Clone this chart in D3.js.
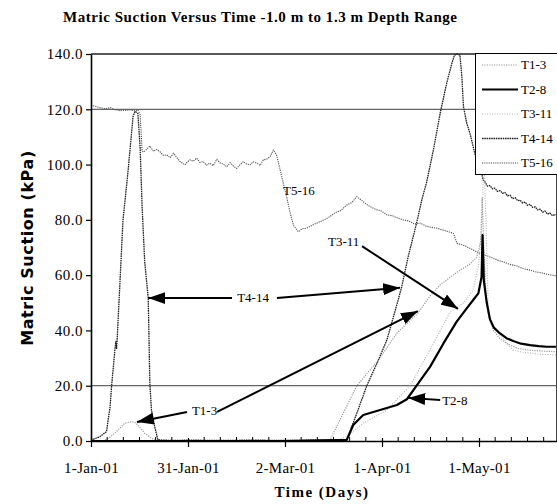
<!DOCTYPE html>
<html>
<head>
<meta charset="utf-8">
<script src="https://cdn.jsdelivr.net/npm/d3@7"></script>
<style>
body { margin: 0; background: #fff; }
svg { display: block; }
</style>
</head>
<body>
<div id="chart"></div>
<script>
// data, days counted from 1-Jan-01
var seriesNames = ["T1-3", "T2-8", "T3-11", "T4-14", "T5-16"];

var t1Days = [0, 2, 4.2, 6, 8.4, 10.4, 12.5, 13.5, 14.5, 16.6, 18.7, 20.7, 30, 50, 73.9, 78, 82.2, 88.9, 94.6, 101.1, 104.9, 108, 113.1, 117.2, 119.3, 120.5, 121, 121.5, 122.2, 123, 124.5, 126.5, 129, 132, 136, 140, 143.8];
var t1Vals = [0, 0, 0.2, 1.5, 4, 6.4, 7, 6.8, 5.8, 2.8, 1, 0.1, 0, 0, 0.3, 10, 20, 29.3, 39, 46.3, 52.5, 56.5, 61, 64, 66.5, 72, 88, 70, 52, 45, 40, 37, 35, 33.5, 32.8, 32.5, 32.3];

var t2Days = [0, 20, 40, 60, 79.1, 81.1, 84.2, 89.4, 94.6, 97.7, 100.7, 104.9, 109, 113.1, 116.2, 118.2, 119.8, 120.8, 121.1, 121.5, 122.4, 123.4, 124.6, 126.5, 128.5, 130.6, 133, 135.8, 138.5, 140.9, 143.8];
var t2Vals = [0, 0, 0, 0, 0.4, 5.8, 9.4, 11.2, 13, 15.1, 20, 26.9, 35.3, 43.2, 48, 51, 53.4, 59.4, 74.5, 58, 50, 44, 41, 38.9, 37.2, 36.2, 35.2, 34.7, 34.3, 34.1, 34.1];

var t3Days = [0, 20, 50, 70, 76, 79.1, 84.2, 91.5, 98.7, 105.9, 111, 115.2, 118.2, 119.8, 120.8, 121.3, 121.7, 122.1, 122.6, 122.9, 123.4, 125, 126.5, 128.5, 130.6, 133, 135.8, 139, 143.8];
var t3Vals = [0, 0, 0, 0, 0.2, 1.6, 6.4, 11.2, 20, 35.3, 46.5, 50, 54.6, 63, 76.3, 94.4, 97, 82, 60, 46.2, 43.8, 40.5, 38.4, 35.5, 32.9, 32.2, 31.8, 31.4, 31.1];

var t4Days = [0, 1.5, 2.8, 4.8, 5.9, 6.4, 7.4, 7.7, 7.9, 8.1, 9.9, 11.4, 13, 13.6, 14.5, 15.2, 15.8, 16.6, 17.7, 18.2, 18.7, 19.7, 20.7, 25, 30, 40, 50, 60, 70, 79.1, 82.2, 85.3, 88.9, 91.5, 95, 96.1, 98.1, 100.7, 102.3, 103.8, 105.9, 108, 110, 111.6, 112.4, 113.2, 114.1, 114.7, 115.2, 116.2, 117.2, 118.2, 118.8, 120.8, 121.3, 122, 122.6, 123.4, 124.2, 124.9, 125.7, 126.5, 127.3, 128, 128.8, 129.6, 130.4, 131.2, 132, 132.7, 133.5, 134.3, 135, 135.8, 136.6, 137.4, 138.1, 138.9, 139.7, 140.4, 141.2, 141.9, 142.7, 143.8];
var t4Vals = [0.3, 1, 1.6, 3.4, 12.4, 20.3, 33, 36, 33.5, 37, 80, 96.9, 117.3, 119.3, 118.5, 106, 85, 65, 51.6, 20.9, 11.2, 5.2, 0.4, 0.2, 0.3, 0.2, 0.3, 0.2, 0.3, 0.4, 10, 20, 29.3, 36.5, 51, 55.8, 66.7, 78.8, 87.2, 93.6, 105.3, 118.6, 129.4, 136.6, 139.6, 140, 139.6, 131.8, 120.9, 115, 111.3, 106.5, 103.5, 96.9, 94.4, 93.5, 92.2, 92.4, 91.2, 91.5, 90.3, 90.6, 89.6, 89.9, 88.7, 88.9, 87.7, 88, 86.9, 87.1, 86.1, 86.4, 85.2, 85.6, 84.5, 84.7, 83.6, 83.9, 82.8, 83.2, 82.1, 82.5, 81.6, 81.9];

var t5Days = [0, 1.5, 3, 4.5, 6, 7.5, 9, 10.5, 12, 13.5, 14.5, 15.2, 15.8, 16.2, 17.2, 18.2, 19.3, 20.3, 21.3, 22.4, 23.4, 24.5, 25.5, 26.5, 27.5, 28.3, 29, 29.8, 30.6, 31.6, 32.7, 33.7, 34.7, 35.7, 36.8, 37.8, 38.9, 39.9, 40.9, 42, 43, 44, 45, 46, 47.1, 48.1, 49.2, 50.2, 51.3, 52.3, 53.3, 54.4, 55.4, 56.4, 57.4, 59, 60.5, 61.5, 62.6, 64.1, 65.4, 66.7, 68, 69.4, 70.8, 72.4, 73.9, 75.5, 77.3, 79.1, 80.7, 82.2, 83.6, 85, 86.3, 88, 89.8, 91.5, 93.2, 94.9, 96.6, 98.3, 100, 101.8, 103.5, 105.2, 106.9, 108.6, 110.4, 112.1, 113.2, 114.8, 116.5, 118.2, 120.3, 122, 123.8, 125.5, 127.5, 129.5, 131.5, 133.5, 135.5, 137.5, 139.5, 141.5, 143.8];
var t5Vals = [121.5, 121, 120.5, 120.2, 120.6, 119.8, 119.5, 119.6, 119.8, 119.5, 119.8, 118, 105, 104.5, 105.5, 106.7, 104.8, 105.5, 104.7, 103.3, 103.5, 102.5, 104.1, 102.6, 101.1, 100.5, 99.9, 101, 101.7, 101.2, 102.3, 100.8, 101.1, 99.8, 100.5, 99.6, 101.9, 100.6, 100.2, 99.2, 100.7, 99.5, 98.6, 99.8, 101.1, 100.2, 99.9, 101, 100.5, 99.7, 101.7, 102, 102.9, 105.3, 103.5, 95.6, 88.4, 83, 78.1, 75.7, 76.8, 77, 77.8, 78.6, 79.3, 80.2, 81.2, 82.6, 83.4, 85.4, 86.3, 88.4, 87.1, 85.8, 84.8, 83.8, 83.2, 81.8, 81.5, 80.6, 80, 79.6, 78.5, 78.8, 77.8, 77.3, 77, 76.4, 75.8, 75.1, 71.5, 71, 70.1, 69.1, 67.9, 67.2, 66.4, 65.5, 64.8, 63.9, 63.4, 62.4, 61.9, 61.2, 60.8, 60.2, 59.8];

var allDays = [t1Days, t2Days, t3Days, t4Days, t5Days];
var allVals = [t1Vals, t2Vals, t3Vals, t4Vals, t5Vals];

var yTicks = [0, 20, 40, 60, 80, 100, 120, 140];
var gridVals = [20, 120];
var xTickDays = [0, 30, 60, 90, 120];
var lastDay = 144;

// annotations (label position and arrows in data units)
var noteLabels = ["T4-14", "T1-3", "T3-11", "T2-8", "T5-16"];
var noteDays = [45.2, 31.2, 73.3, 108.6, 59.4];
var noteVals = [50.3, 9.4, 70.5, 13, 89];

var arrowFromDays = [43.6, 57.5, 29.7, 39, 83.8, 108];
var arrowFromVals = [51.7, 51.7, 10.5, 10.5, 70.5, 14.8];
var arrowToDays = [17.7, 95.6, 14.2, 101.1, 113.5, 98.1];
var arrowToVals = [51.7, 55.4, 6.9, 47, 47.8, 15.6];

// styles
var lineColors = ["#9a9a9a", "#000", "#b8b8b8", "#222", "#555"];
var lineWidths = [1.2, 2.2, 1.2, 1.3, 1.1];
var lineDashes = ["1.2,1.2", null, "1,1.5", "1.6,0.7", "1.2,1"];

var serif = '"Liberation Serif", "Times New Roman", serif';
var start = Date.UTC(2001, 0, 1);
function dayToDate(d) { return new Date(start + d * 864e5); }

var svg = d3.select("#chart")
    .append("svg")
    .attr("width", 557)
    .attr("height", 504);

var x = d3.scaleUtc().domain([dayToDate(0), dayToDate(lastDay)]).range([91, 556.6]),
    y = d3.scaleLinear().domain([0, 140]).range([441, 54]);

var defs = svg.append("defs");
defs.append("clipPath").attr("id", "plot")
  .append("rect")
    .attr("x", 91).attr("y", 53)
    .attr("width", 466).attr("height", 391);

defs.append("marker")
    .attr("id", "head")
    .attr("viewBox", "0 -5 10 10")
    .attr("refX", 10).attr("refY", 0)
    .attr("markerWidth", 17).attr("markerHeight", 12)
    .attr("markerUnits", "userSpaceOnUse")
    .attr("preserveAspectRatio", "none")
    .attr("orient", "auto")
  .append("path")
    .attr("d", "M0,-5L10,0L0,5Z")
    .attr("fill", "#000");

// title
svg.append("text")
    .attr("x", 63).attr("y", 22)
    .attr("textLength", 394)
    .attr("lengthAdjust", "spacing")
    .style("font-family", serif)
    .style("font-weight", "bold")
    .style("font-size", "15px")
    .text("Matric Suction Versus Time -1.0 m to 1.3 m Depth Range");

// grid lines
svg.selectAll(".grid")
    .data(gridVals)
    .enter().append("line")
    .attr("class", "grid")
    .attr("x1", 91).attr("x2", 556.6)
    .attr("y1", function(d) { return y(d); })
    .attr("y2", function(d) { return y(d); })
    .style("stroke", "#666")
    .style("stroke-width", 1.2);

// frame top / right
svg.append("line")
    .attr("x1", 91).attr("x2", 556.6)
    .attr("y1", y(140)).attr("y2", y(140))
    .style("stroke", "#222").style("stroke-width", 1.4);
svg.append("line")
    .attr("x1", 556.5).attr("x2", 556.5)
    .attr("y1", y(140)).attr("y2", y(0))
    .style("stroke", "#444").style("stroke-width", 1);

// series
var line = d3.line()
    .x(function(d) { return x(d.date); })
    .y(function(d) { return y(d.v); });

var order = [4, 3, 2, 0, 1];
var lines = svg.append("g").attr("clip-path", "url(#plot)");
order.forEach(function(i) {
  var pts = allDays[i].map(function(d, k) { return { date: dayToDate(d), v: allVals[i][k] }; });
  lines.append("path")
      .datum(pts)
      .attr("d", line)
      .style("fill", "none")
      .style("stroke", lineColors[i])
      .style("stroke-width", lineWidths[i])
      .style("stroke-dasharray", lineDashes[i])
      .style("stroke-linejoin", "round");
});

// axes
var yAxis = svg.append("g")
    .attr("transform", "translate(91,0)")
    .call(d3.axisLeft(y).tickValues(yTicks).tickFormat(d3.format(".1f")).tickSizeInner(5).tickSizeOuter(0).tickPadding(3));
yAxis.select(".domain").style("stroke-width", 1.6);
yAxis.selectAll(".tick line").style("stroke-width", 1.2);
yAxis.selectAll("text")
    .style("font-family", serif)
    .style("font-size", "15px")
    .style("letter-spacing", "0.5px");

var xAxis = svg.append("g")
    .attr("transform", "translate(0," + y(0) + ")")
    .call(d3.axisBottom(x)
      .tickValues(xTickDays.map(dayToDate))
      .tickFormat(d3.utcFormat("%-d-%b-%y"))
      .tickSizeInner(6).tickSizeOuter(0).tickPadding(15));
xAxis.select(".domain").style("stroke-width", 1.6);
xAxis.selectAll(".tick line").attr("y1", -3).style("stroke-width", 1.2);
xAxis.selectAll("text")
    .style("font-family", serif)
    .style("font-size", "15px")
    .style("letter-spacing", "0.3px");

// minor ticks every 5 days
var minorDays = d3.range(5, lastDay, 5).filter(function(d) { return d % 30 !== 0; });
svg.selectAll(".minor")
    .data(minorDays)
    .enter().append("line")
    .attr("class", "minor")
    .attr("x1", function(d) { return x(dayToDate(d)); })
    .attr("x2", function(d) { return x(dayToDate(d)); })
    .attr("y1", y(0) - 4).attr("y2", y(0))
    .style("stroke", "#000").style("stroke-width", 1);

// axis titles
svg.append("text")
    .attr("transform", "translate(33,248) rotate(-90)")
    .attr("text-anchor", "middle")
    .style("font-family", '"DejaVu Sans", sans-serif')
    .style("font-weight", "bold")
    .style("font-size", "16px")
    .style("letter-spacing", "0.6px")
    .text("Matric Suction (kPa)");

svg.append("text")
    .attr("x", 322).attr("y", 497)
    .attr("text-anchor", "middle")
    .style("font-family", serif)
    .style("font-weight", "bold")
    .style("font-size", "15px")
    .style("letter-spacing", "1.5px")
    .text("Time (Days)");

// annotations
svg.selectAll(".arrow")
    .data(arrowFromDays)
    .enter().append("line")
    .attr("class", "arrow")
    .attr("x1", function(d) { return x(dayToDate(d)); })
    .attr("y1", function(d, i) { return y(arrowFromVals[i]); })
    .attr("x2", function(d, i) { return x(dayToDate(arrowToDays[i])); })
    .attr("y2", function(d, i) { return y(arrowToVals[i]); })
    .style("stroke", "#000")
    .style("stroke-width", 2)
    .attr("marker-end", "url(#head)");

svg.selectAll(".note")
    .data(noteLabels)
    .enter().append("text")
    .attr("class", "note")
    .attr("x", function(d, i) { return x(dayToDate(noteDays[i])); })
    .attr("y", function(d, i) { return y(noteVals[i]); })
    .style("font-family", serif)
    .style("font-size", "13px")
    .text(function(d) { return d; });

// legend
var legend = svg.append("g");
legend.append("rect")
    .attr("x", 475.5).attr("y", 53.5)
    .attr("width", 90).attr("height", 121)
    .style("fill", "#fff")
    .style("stroke", "#000")
    .style("stroke-width", 1);

seriesNames.forEach(function(name, i) {
  var ly = 65 + i * 24.5;
  legend.append("line")
      .attr("x1", 482).attr("x2", 518)
      .attr("y1", ly).attr("y2", ly)
      .style("stroke", lineColors[i])
      .style("stroke-width", lineWidths[i])
      .style("stroke-dasharray", lineDashes[i]);
  legend.append("text")
      .attr("x", 521).attr("y", ly + 4)
      .style("font-family", serif)
      .style("font-size", "13px")
      .text(name);
});
</script>
</body>
</html>
